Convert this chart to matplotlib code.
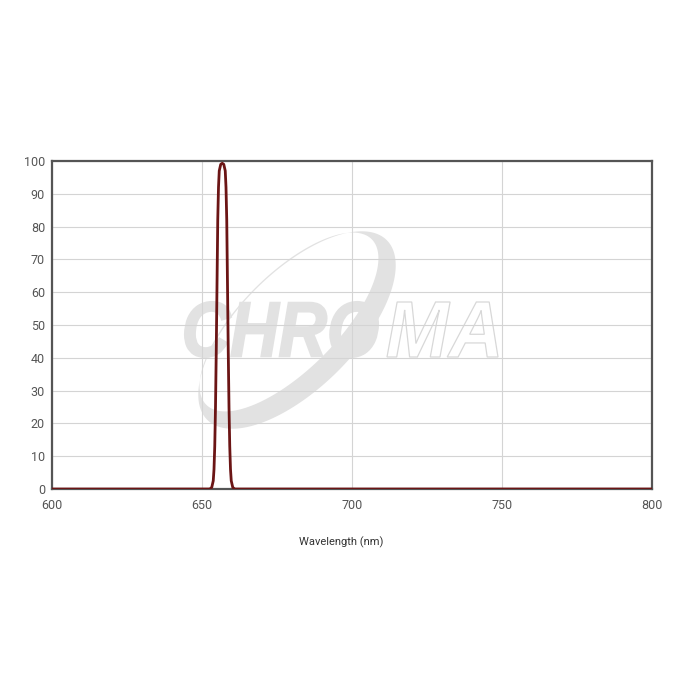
import numpy as np
import matplotlib
matplotlib.use("Agg")
import matplotlib.pyplot as plt
from matplotlib.path import Path
from matplotlib.patches import PathPatch
from matplotlib.textpath import TextPath
from matplotlib.font_manager import FontProperties
from matplotlib.transforms import Affine2D

# transmission curve (nm, %)
wavelength = [600, 650, 652.5, 652.75, 653.25, 653.75, 654.0, 654.25, 654.5,
              654.75, 655.0, 655.25, 655.5, 655.75, 656.25, 656.75, 657.25,
              657.75, 658.0, 658.25, 658.5, 658.75, 659.0, 659.25, 659.5,
              659.75, 660.25, 660.75, 661.0, 700, 800]
transmission = [0, 0, 0, 0.1, 0.5, 2.5, 6, 13, 25,
                42, 62, 82, 92, 97, 99, 99.3, 99,
                97, 92, 82, 62, 42, 25, 13, 6,
                2.5, 0.5, 0.1, 0, 0, 0]

xticks = [600, 650, 700, 750, 800]
yticks = [0, 10, 20, 30, 40, 50, 60, 70, 80, 90, 100]

plt.rcParams["font.family"] = ["Roboto", "DejaVu Sans"]

fig = plt.figure(figsize=(7, 7), dpi=100)
ax = fig.add_axes([52 / 700, 211 / 700, 600 / 700, 328 / 700])

ax.plot(wavelength, transmission, color="#6b1515", lw=2, zorder=3,
        solid_joinstyle="round")
ax.set_xlim(600, 800)
ax.set_ylim(0, 100)
ax.set_xticks(xticks)
ax.set_yticks(yticks)
ax.tick_params(length=0, labelsize=9, labelcolor="#555555")
ax.tick_params(axis="x", pad=7)
ax.tick_params(axis="y", pad=5)
ax.grid(color="#d4d4d4", lw=0.8)
for s in ax.spines.values():
    s.set_color("#555555")
    s.set_linewidth(1.6)
ax.set_xlabel("Wavelength (nm)", fontsize=8, color="#333333", labelpad=17.5)
ax.xaxis.set_label_coords(0.482, -0.145)

# --- watermark, in pixel coords (y down) ---
px = Affine2D().scale(1 / 700, -1 / 700).translate(0, 1) + fig.transFigure
wm = "#e2e2e2"


def ellipse(cx, cy, a, b, ang, n=200):
    t = np.linspace(0, 2 * np.pi, n)
    c, s = np.cos(np.radians(ang)), np.sin(np.radians(ang))
    x = a * np.cos(t)
    y = b * np.sin(t)
    return np.column_stack([cx + x * c - y * s, cy + x * s + y * c])


outer = ellipse(297, 330, 127, 58, -45)
inner = ellipse(289, 322, 117, 48, -45)[::-1]
verts = np.vstack([outer, outer[:1], inner, inner[:1]])
codes = ([Path.MOVETO] + [Path.LINETO] * (len(outer) - 1) + [Path.CLOSEPOLY]
         + [Path.MOVETO] + [Path.LINETO] * (len(inner) - 1) + [Path.CLOSEPOLY])
ax.add_patch(PathPatch(Path(verts, codes), facecolor=wm, edgecolor="none",
                       transform=px, zorder=0.2, clip_on=False))

fp = FontProperties(family="Liberation Sans", weight="bold", style="italic")


def word(s, x0, x1, top, base, **kw):
    tp = TextPath((0, 0), s, size=100, prop=fp)
    ext = tp.get_extents()
    sx = (x1 - x0) / ext.width
    sy = (base - top) / ext.height
    tr = (Affine2D().translate(-ext.x0, -ext.y0).scale(sx, -sy)
          .translate(x0, base) + px)
    ax.add_patch(PathPatch(tp, transform=tr, zorder=0.3, clip_on=False, **kw))


word("CHRO", 185, 378, 302, 357, facecolor=wm, edgecolor=wm, lw=1.5)
word("MA", 387, 498, 302, 357, facecolor="none", edgecolor="#d8d8d8", lw=0.9)

fig.savefig("out.png", dpi=100)
